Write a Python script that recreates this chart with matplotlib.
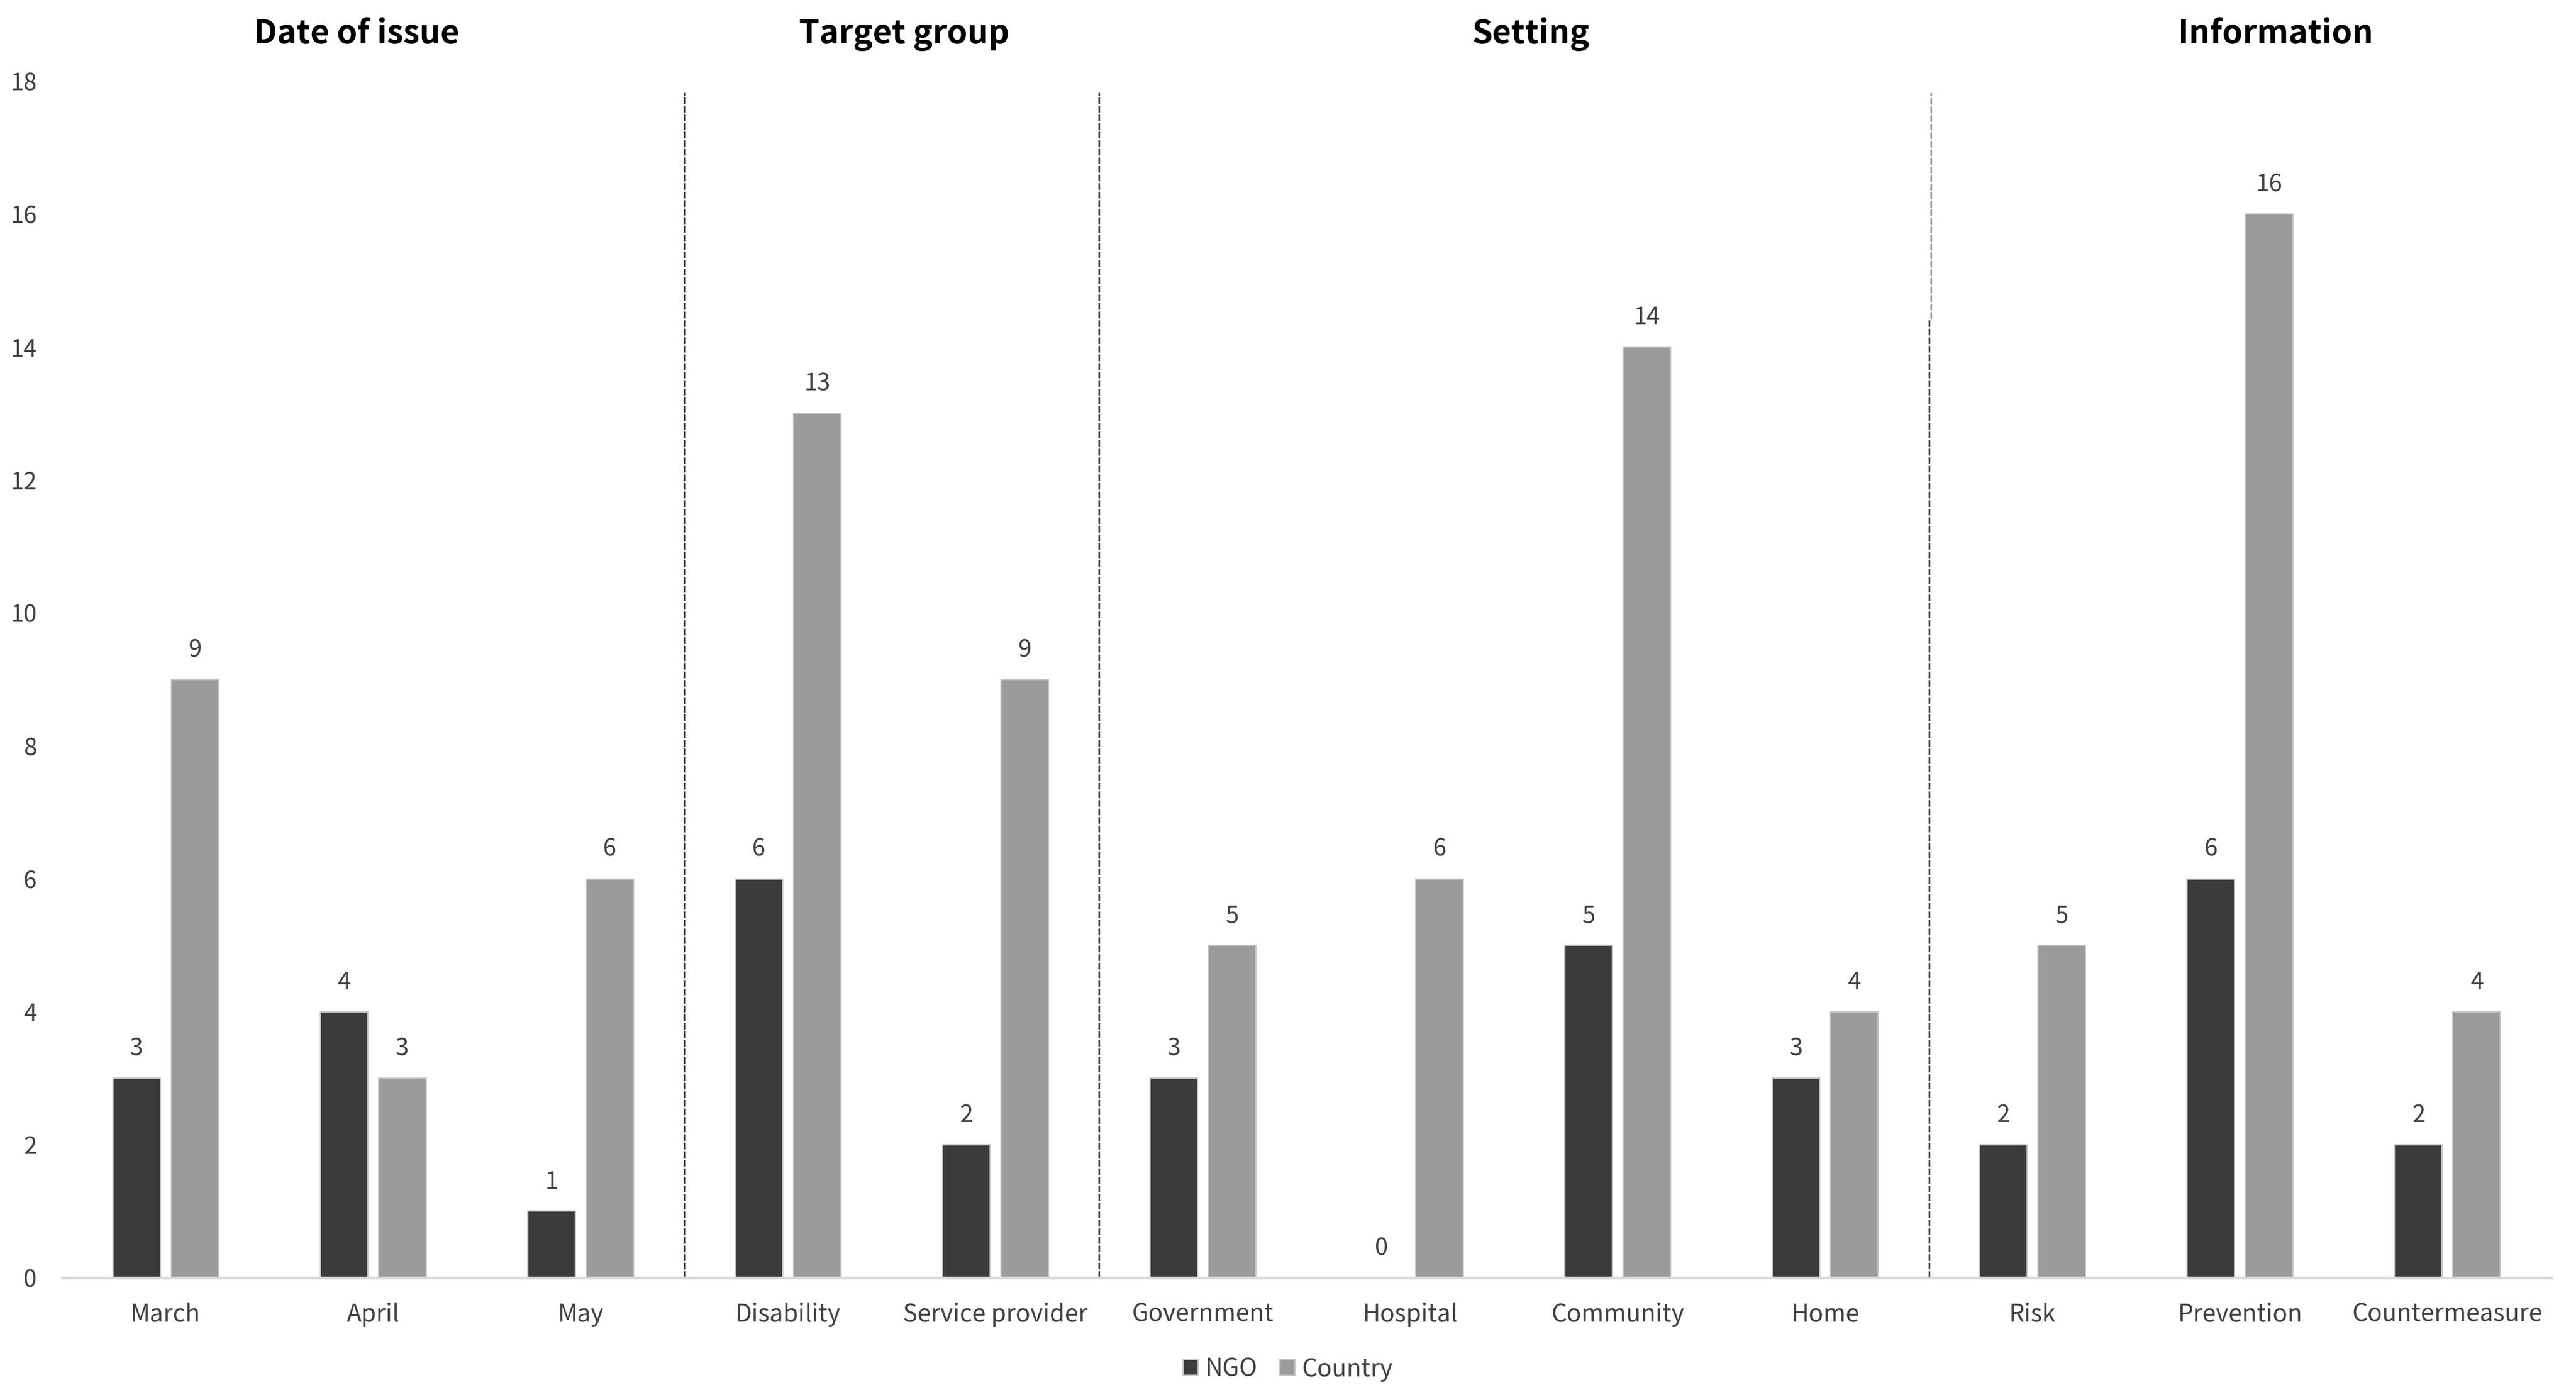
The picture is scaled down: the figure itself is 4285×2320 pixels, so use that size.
import matplotlib
matplotlib.use("Agg")
import matplotlib.pyplot as plt
import numpy as np

plt.rcParams['font.family'] = ['Noto Sans CJK KR', 'DejaVu Sans']

categories = ["March", "April", "May", "Disability", "Service provider",
              "Government", "Hospital", "Community", "Home",
              "Risk", "Prevention", "Countermeasure"]
ngo = [3, 4, 1, 6, 2, 3, 0, 5, 3, 2, 6, 2]
country = [9, 3, 6, 13, 9, 5, 6, 14, 4, 5, 16, 4]
group_titles = ["Date of issue", "Target group", "Setting", "Information"]
group_title_x = [0.92, 3.56, 6.58, 10.17]
separators = [2.5, 4.5, 8.5]
yticks = [0, 2, 4, 6, 8, 10, 12, 14, 16, 18]

W, H, DPI = 4285, 2320, 300
fig = plt.figure(figsize=(W / DPI, H / DPI), dpi=DPI)
ax = fig.add_axes([103 / W, 1 - 2125 / H, (4244 - 103) / W, (2125 - 135) / H])

x = np.arange(len(categories))
bw = 0.229
off = 0.1406
c_ngo = '#3b3b3b'
c_cty = '#9b9b9b'
ax.bar(x - off, ngo, bw, color=c_ngo, edgecolor='#c4c4c4', linewidth=0.5, label='NGO', zorder=2)
ax.bar(x + off, country, bw, color=c_cty, edgecolor='#c4c4c4', linewidth=0.5, label='Country', zorder=2)

txt_col = '#404040'
for xi, v in zip(x - off, ngo):
    ax.annotate(str(v), (xi, v), xytext=(0, 9.1), textcoords='offset points',
                ha='center', va='baseline', fontsize=9.5, color=txt_col)
for xi, v in zip(x + off, country):
    ax.annotate(str(v), (xi, v), xytext=(0, 9.1), textcoords='offset points',
                ha='center', va='baseline', fontsize=9.5, color=txt_col)

ax.set_xlim(-0.5, len(categories) - 0.5)
ax.set_ylim(0, 18)
ax.set_yticks(yticks)
ax.set_xticks(x)
ax.set_xticklabels(categories, fontsize=9.7, color=txt_col)
ax.tick_params(axis='x', length=0, pad=9.8)
ax.tick_params(axis='y', length=0, pad=10, labelsize=9.5, labelcolor=txt_col)
for s in ['top', 'right', 'left']:
    ax.spines[s].set_visible(False)
ax.spines['bottom'].set_color('#d9d9d9')
ax.spines['bottom'].set_linewidth(1.1)
ax.spines['bottom'].set_zorder(3)

# dashed separators
dash = (0, (4.5, 1.2))
ax.vlines(separators[0], 0, 17.83, colors='#2a2a2a', linestyles=[dash], linewidth=0.6, zorder=1)
ax.vlines(separators[1], 0, 17.83, colors='#2a2a2a', linestyles=[dash], linewidth=0.6, zorder=1)
ax.vlines(separators[2], 0, 14.43, colors='#2a2a2a', linestyles=[dash], linewidth=0.6, zorder=1)
ax.vlines(separators[2] + 0.008, 14.43, 17.83, colors='#8c8c8c', linestyles=[dash], linewidth=0.6, zorder=1)

for t, tx in zip(group_titles, group_title_x):
    ax.text(tx, 18.57, t, ha='center', va='baseline', fontsize=13.1,
            fontweight='bold', color='black', clip_on=False)

fig.legend(loc='center', bbox_to_anchor=(0.5, 0.0185), ncol=2, frameon=False,
           fontsize=9.7, handlelength=0.62, handleheight=0.62, handletextpad=0.3,
           columnspacing=0.9, labelcolor=txt_col)

fig.savefig('out.png', dpi=DPI)
